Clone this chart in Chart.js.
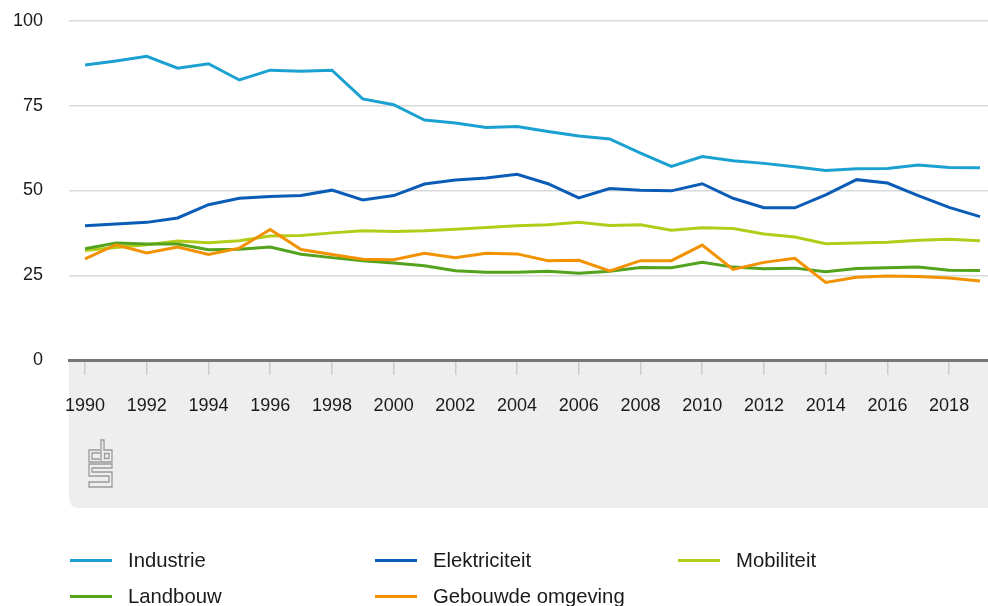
<!DOCTYPE html>
<html>
<head>
<meta charset="utf-8">
<script src="https://cdn.jsdelivr.net/npm/chart.js@4/dist/chart.umd.min.js"></script>
<style>
    body { margin: 0; background: #fff; font-family: "Liberation Sans", Arial, sans-serif; }
    #wrap { position: relative; width: 988px; height: 606px; }
    #legend .item { position: absolute; display: flex; align-items: center; height: 24px; font-size: 20.3px; color: #1a1a1a; }
    #legend .swatch { width: 42px; height: 3px; margin-right: 16px; }
</style>
</head>
<body>
<div id="wrap">
    <canvas id="chart" width="988" height="606"></canvas>
    <div id="legend"></div>
</div>
<script>
// Years on the x axis
const years = [1990, 1991, 1992, 1993, 1994, 1995, 1996, 1997, 1998, 1999,
    2000, 2001, 2002, 2003, 2004, 2005, 2006, 2007, 2008, 2009,
    2010, 2011, 2012, 2013, 2014, 2015, 2016, 2017, 2018, 2019];

// Series values
const industrie = [87.0, 88.2, 89.6, 86.1, 87.4, 82.6, 85.5, 85.2, 85.5, 77.0,
    75.3, 70.8, 69.9, 68.6, 68.9, 67.4, 66.1, 65.2, 61.0, 57.1,
    60.0, 58.8, 58.0, 57.0, 55.9, 56.4, 56.5, 57.5, 56.8, 56.7];
const elektriciteit = [39.6, 40.1, 40.6, 41.9, 45.8, 47.7, 48.2, 48.5, 50.1, 47.2,
    48.5, 51.9, 53.1, 53.7, 54.8, 52.0, 47.8, 50.6, 50.1, 49.9,
    52.0, 47.7, 44.9, 44.9, 48.7, 53.2, 52.2, 48.5, 45.0, 42.3];
const mobiliteit = [32.3, 33.2, 34.0, 35.1, 34.6, 35.2, 36.6, 36.7, 37.5, 38.1,
    37.9, 38.1, 38.6, 39.1, 39.6, 39.9, 40.6, 39.7, 39.9, 38.3,
    39.0, 38.8, 37.2, 36.3, 34.3, 34.5, 34.7, 35.3, 35.6, 35.2];
const landbouw = [32.8, 34.5, 34.2, 34.2, 32.5, 32.7, 33.3, 31.2, 30.2, 29.3,
    28.6, 27.8, 26.3, 25.9, 25.9, 26.2, 25.6, 26.2, 27.3, 27.2,
    28.8, 27.4, 26.9, 27.1, 26.0, 27.0, 27.2, 27.4, 26.5, 26.4];
const gebouwd = [29.8, 34.0, 31.6, 33.3, 31.1, 33.0, 38.5, 32.6, 31.1, 29.7,
    29.6, 31.5, 30.2, 31.5, 31.3, 29.3, 29.4, 26.3, 29.3, 29.3,
    33.9, 26.7, 28.8, 30.0, 22.9, 24.4, 24.8, 24.6, 24.2, 23.3];

const seriesNames = ['Industrie', 'Elektriciteit', 'Mobiliteit', 'Landbouw', 'Gebouwde omgeving'];
const seriesValues = [industrie, elektriciteit, mobiliteit, landbouw, gebouwd];
const seriesColors = ['#1ba1d1', '#0a5cb6', '#b3cc19', '#53a31d', '#f39200'];

const yTicks = [0, 25, 50, 75, 100];
const xTicks = [1990, 1992, 1994, 1996, 1998, 2000, 2002, 2004, 2006, 2008, 2010, 2012, 2014, 2016, 2018];

// Grey band under the x axis with the cbs logo
const axisBand = {
    id: 'axisBand',
    beforeDraw(chart) {
        const ctx = chart.ctx;
        const area = chart.chartArea;
        const bottom = 508;
        const r = 10;
        ctx.save();
        ctx.fillStyle = '#eeeeee';
        ctx.beginPath();
        ctx.moveTo(area.left, area.bottom);
        ctx.lineTo(chart.width, area.bottom);
        ctx.lineTo(chart.width, bottom);
        ctx.lineTo(area.left + r, bottom);
        ctx.quadraticCurveTo(area.left, bottom, area.left, bottom - r);
        ctx.closePath();
        ctx.fill();

        // logo
        ctx.strokeStyle = '#9a9a9a';
        ctx.lineWidth = 1.3;
        const x = 89, y = 440;
        ctx.beginPath();
        // c
        ctx.moveTo(x + 11, y + 10); ctx.lineTo(x, y + 10); ctx.lineTo(x, y + 22); ctx.lineTo(x + 11, y + 22);
        ctx.moveTo(x + 11, y + 13); ctx.lineTo(x + 3, y + 13); ctx.lineTo(x + 3, y + 19); ctx.lineTo(x + 11, y + 19);
        // b
        ctx.moveTo(x + 12, y + 22); ctx.lineTo(x + 12, y); ctx.lineTo(x + 15, y); ctx.lineTo(x + 15, y + 10);
        ctx.lineTo(x + 23, y + 10); ctx.lineTo(x + 23, y + 22); ctx.closePath();
        ctx.rect(x + 15.5, y + 13.5, 4.5, 5);
        // s
        ctx.moveTo(x + 23, y + 24); ctx.lineTo(x, y + 24); ctx.lineTo(x, y + 36); ctx.lineTo(x + 20, y + 36);
        ctx.lineTo(x + 20, y + 42); ctx.lineTo(x, y + 42); ctx.lineTo(x, y + 47); ctx.lineTo(x + 23, y + 47);
        ctx.lineTo(x + 23, y + 32); ctx.lineTo(x + 3, y + 32); ctx.lineTo(x + 3, y + 28); ctx.lineTo(x + 23, y + 28);
        ctx.closePath();
        ctx.stroke();
        ctx.restore();
    }
};

const datasets = seriesNames.map((name, i) => ({
    label: name,
    data: years.map((yr, j) => ({ x: yr, y: seriesValues[i][j] })),
    borderColor: seriesColors[i],
    backgroundColor: seriesColors[i],
    borderWidth: 3,
    pointRadius: 0,
    tension: 0,
    order: 5 - i
}));

new Chart(document.getElementById('chart').getContext('2d'), {
    type: 'line',
    data: { datasets: datasets },
    plugins: [axisBand],
    options: {
        responsive: false,
        animation: false,
        layout: { padding: { top: 21, right: 0, bottom: 98, left: 0 } },
        plugins: {
            legend: { display: false },
            tooltip: { enabled: false }
        },
        scales: {
            x: {
                type: 'linear',
                min: 1989.48,
                max: 2019.26,
                afterFit: axis => { axis.height = 148; axis.paddingLeft = 0; axis.paddingRight = 0; },
                afterBuildTicks: axis => { axis.ticks = xTicks.map(v => ({ value: v })); },
                grid: { drawOnChartArea: false, drawTicks: true, tickLength: 15, color: '#cccccc', lineWidth: 1.5 },
                border: { display: true, color: '#777777', width: 3 },
                ticks: {
                    autoSkip: false,
                    maxRotation: 0,
                    padding: 20,
                    color: '#1a1a1a',
                    font: { family: '"Liberation Sans", Arial, sans-serif', size: 18 },
                    callback: v => String(v)
                }
            },
            y: {
                min: 0,
                max: 100,
                afterFit: axis => { axis.width = 69; axis.paddingTop = 0; axis.paddingBottom = 0; },
                afterBuildTicks: axis => { axis.ticks = yTicks.map(v => ({ value: v })); },
                grid: { drawTicks: false, color: '#d9d9d9', lineWidth: 1.5 },
                border: { display: false },
                ticks: {
                    padding: 26,
                    color: '#1a1a1a',
                    font: { family: '"Liberation Sans", Arial, sans-serif', size: 18 }
                }
            }
        }
    }
});

// Legend in three columns, two rows
const legendEl = document.getElementById('legend');
const colX = [70, 375, 678];
const rowY = [548, 584];
seriesNames.forEach((name, i) => {
    const item = document.createElement('div');
    item.className = 'item';
    item.style.left = colX[i % 3] + 'px';
    item.style.top = rowY[Math.floor(i / 3)] + 'px';
    const sw = document.createElement('span');
    sw.className = 'swatch';
    sw.style.background = seriesColors[i];
    const label = document.createElement('span');
    label.textContent = name;
    item.appendChild(sw);
    item.appendChild(label);
    legendEl.appendChild(item);
});
</script>
</body>
</html>
